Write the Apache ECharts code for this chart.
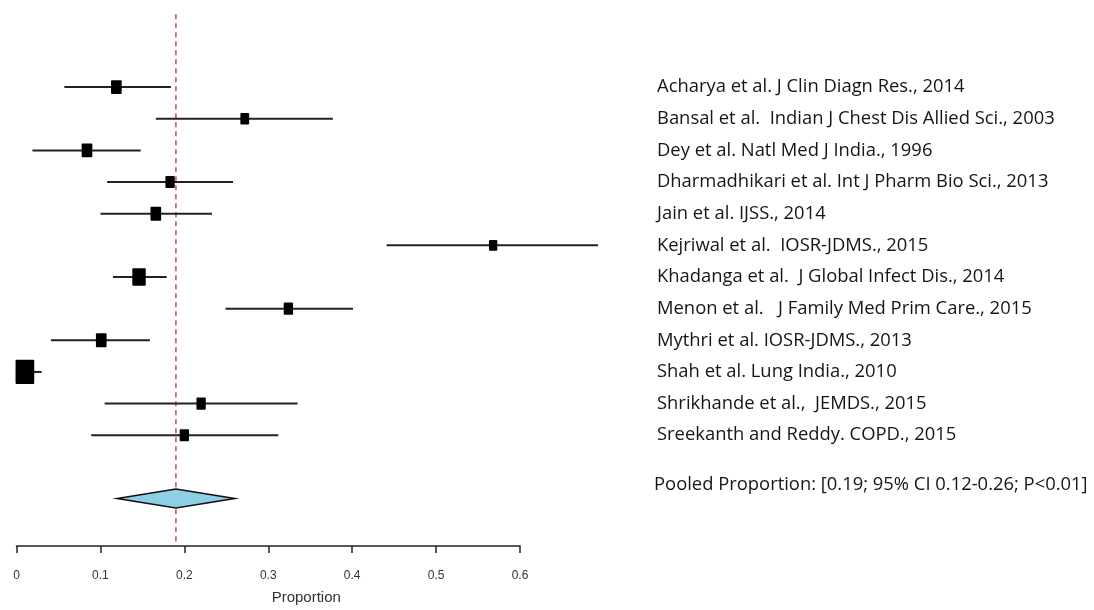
<!DOCTYPE html>
<html>
<head>
<meta charset="utf-8">
<script src="https://cdn.jsdelivr.net/npm/echarts@6/dist/echarts.min.js"></script>
<style>
html,body{margin:0;padding:0;background:#fff;}
#chart{width:1094px;height:610px;}
</style>
</head>
<body>
<div id="chart"></div>
<script>
var studies = [
  'Acharya et al. J Clin Diagn Res., 2014',
  'Bansal et al.  Indian J Chest Dis Allied Sci., 2003',
  'Dey et al. Natl Med J India., 1996',
  'Dharmadhikari et al. Int J Pharm Bio Sci., 2013',
  'Jain et al. IJSS., 2014',
  'Kejriwal et al.  IOSR-JDMS., 2015',
  'Khadanga et al.  J Global Infect Dis., 2014',
  'Menon et al.   J Family Med Prim Care., 2015',
  'Mythri et al. IOSR-JDMS., 2013',
  'Shah et al. Lung India., 2010',
  'Shrikhande et al.,  JEMDS., 2015',
  'Sreekanth and Reddy. COPD., 2015'
];
var estimates = [0.119, 0.272, 0.084, 0.183, 0.166, 0.568, 0.146, 0.324, 0.101, 0.010, 0.220, 0.200];
var lower     = [0.057, 0.166, 0.019, 0.108, 0.100, 0.441, 0.115, 0.249, 0.041, 0.000, 0.105, 0.089];
var upper     = [0.184, 0.377, 0.148, 0.258, 0.233, 0.693, 0.179, 0.401, 0.159, 0.030, 0.335, 0.312];
var weights   = [7.7, 5.2, 7.7, 5.9, 7.7, 4.7, 12.2, 5.9, 7.7, 23.7, 5.9, 5.9];
var pooledEstimate = 0.19;
var pooledLower = 0.12;
var pooledUpper = 0.26;
var pooledLabel = 'Pooled Proportion: [0.19; 95% CI 0.12-0.26; P<0.01]';
var xTicks = [0, 0.1, 0.2, 0.3, 0.4, 0.5, 0.6];

var chart = echarts.init(document.getElementById('chart'));
var labelX = 657;
var textFont = 'Open Sans';
var textSize = 18.4;

var rows = studies.map(function (s, i) { return [estimates[i], i]; });
var pooledRow = studies.length + 1;
var yMin = -2.5, yMax = 14.5;

function renderStudy(params, api) {
  var i = params.dataIndex;
  var y = api.coord([0, i])[1];
  var xl = api.coord([lower[i], i])[0];
  var xh = api.coord([upper[i], i])[0];
  var xe = api.coord([estimates[i], i])[0];
  var w = 3.84 * Math.sqrt(weights[i]);
  var h = w * 1.3;
  return {
    type: 'group',
    children: [
      { type: 'line', shape: { x1: xl, y1: y, x2: xh, y2: y }, style: { stroke: '#222', lineWidth: 2 } },
      { type: 'rect', shape: { x: xe - w / 2, y: y - h / 2, width: w, height: h, r: 1 }, style: { fill: '#000' } },
      { type: 'text', style: { text: studies[i], x: labelX, y: y, fill: '#151515', fontFamily: textFont, fontSize: textSize, verticalAlign: 'middle', align: 'left' } }
    ]
  };
}

function renderPooled(params, api) {
  var y = api.coord([0, pooledRow])[1];
  var xl = api.coord([pooledLower, pooledRow])[0];
  var xh = api.coord([pooledUpper, pooledRow])[0];
  var xe = api.coord([pooledEstimate, pooledRow])[0];
  var top = api.coord([pooledEstimate, yMin + 0.2])[1];
  var bottom = api.coord([pooledEstimate, yMax])[1];
  var hh = 9.5;
  var ty = api.coord([0, pooledRow - 0.45])[1];
  return {
    type: 'group',
    children: [
      { type: 'line', z2: -1, shape: { x1: xe, y1: top, x2: xe, y2: bottom }, style: { stroke: '#a83838', lineWidth: 1.3, lineDash: [5, 4] } },
      { type: 'polygon', shape: { points: [[xl, y], [xe, y - hh], [xh, y], [xe, y + hh]] }, style: { fill: '#8ccfe6', stroke: '#111', lineWidth: 1.6 } },
      { type: 'text', style: { text: pooledLabel, x: labelX - 3, y: ty, fill: '#151515', fontFamily: textFont, fontSize: textSize, verticalAlign: 'middle', align: 'left' } }
    ]
  };
}

chart.setOption({
  animation: false,
  backgroundColor: '#fff',
  grid: { left: 16.5, right: 574, top: 8, bottom: 63, containLabel: false },
  xAxis: {
    type: 'value', min: 0, max: 0.6, interval: 0.1,
    name: 'Proportion', nameLocation: 'middle', nameGap: 44,
    nameTextStyle: { fontFamily: 'Liberation Sans', fontSize: 15, color: '#333', padding: [0, 0, 0, 76] },
    axisLine: { show: true, onZero: false, lineStyle: { color: '#222', width: 1.6 } },
    axisTick: { show: true, inside: false, length: 7, lineStyle: { color: '#222', width: 1.5 } },
    axisLabel: { margin: 24, fontFamily: 'Liberation Sans', fontSize: 12, color: '#333',
      formatter: function (v) { return String(Math.round(v * 10) / 10); } },
    splitLine: { show: false }
  },
  yAxis: { type: 'value', min: yMin, max: yMax, inverse: true, show: false, splitLine: { show: false } },
  series: [
    { type: 'custom', clip: false, renderItem: renderPooled, data: [[pooledEstimate, pooledRow]], z: 1 },
    { type: 'custom', clip: false, renderItem: renderStudy, data: rows, z: 2 }
  ]
});
</script>
</body>
</html>
